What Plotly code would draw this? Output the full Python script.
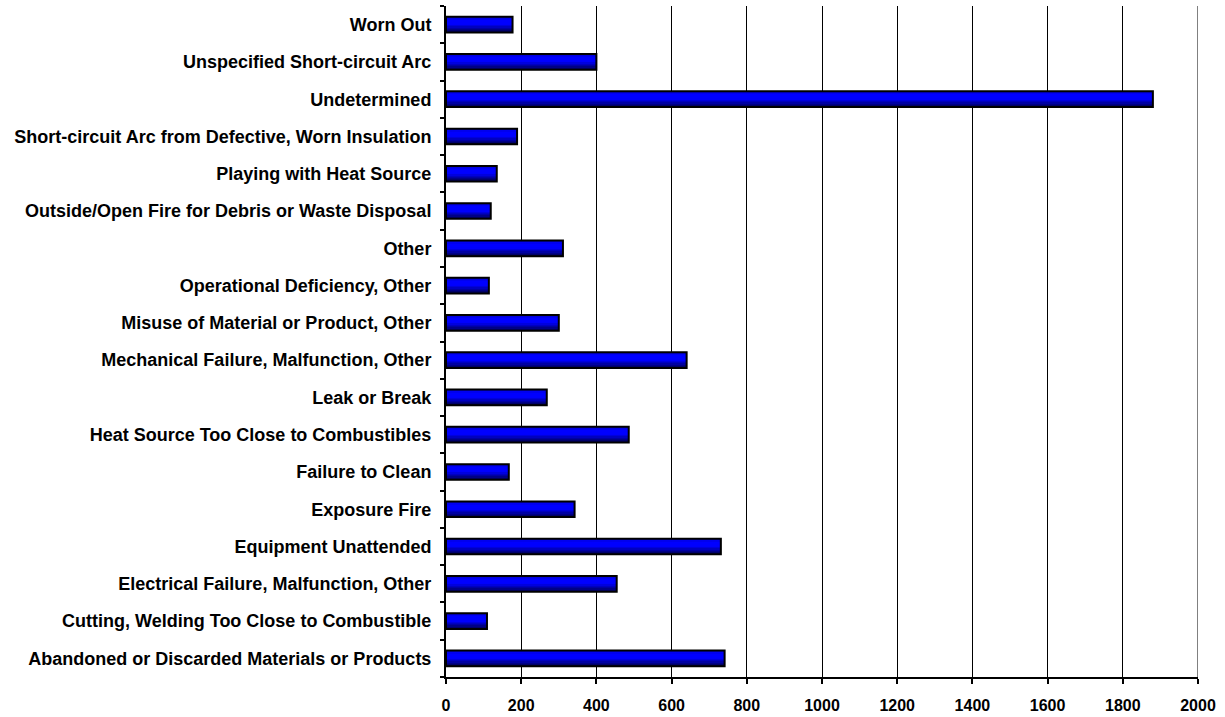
import plotly.graph_objects as go

categories = [
    "Abandoned or Discarded Materials or Products",
    "Cutting, Welding Too Close to Combustible",
    "Electrical Failure, Malfunction, Other",
    "Equipment Unattended",
    "Exposure Fire",
    "Failure to Clean",
    "Heat Source Too Close to Combustibles",
    "Leak or Break",
    "Mechanical Failure, Malfunction, Other",
    "Misuse of Material or Product, Other",
    "Operational Deficiency, Other",
    "Other",
    "Outside/Open Fire for Debris or Waste Disposal",
    "Playing with Heat Source",
    "Short-circuit Arc from Defective, Worn Insulation",
    "Undetermined",
    "Unspecified Short-circuit Arc",
    "Worn Out",
]
values = [741, 109, 454, 731, 342, 167, 486, 268, 640, 300, 114, 311, 119, 135, 189, 1880, 400, 177]
x_ticks = [0, 200, 400, 600, 800, 1000, 1200, 1400, 1600, 1800, 2000]

BAR_W = 0.42
N = 12
# gradient from bottom (dark) to top (bright then slightly darker)
def grad(t):
    # t: 0 bottom .. 1 top
    if t < 0.55:
        b = 60 + (255 - 60) * (t / 0.55)
    elif t < 0.8:
        b = 255
    else:
        b = 255 - (255 - 215) * ((t - 0.8) / 0.2)
    return f"rgb(0,0,{int(b)})"

fig = go.Figure()
for k in range(N):
    t = (k + 0.5) / N
    fig.add_trace(go.Bar(
        x=values, y=categories, orientation="h",
        width=BAR_W / N * 1.02, offset=-BAR_W / 2 + k * BAR_W / N,
        marker=dict(color=grad(t), line=dict(width=0)),
        hoverinfo="skip", showlegend=False,
    ))
fig.add_trace(go.Bar(
    x=values, y=categories, orientation="h",
    width=BAR_W, offset=-BAR_W / 2,
    marker=dict(color="rgba(0,0,0,0)", line=dict(color="black", width=2)),
    showlegend=False,
))

xfont = dict(family="Liberation Sans, Arial, sans-serif", size=16, color="black", weight="bold")
yfont = dict(family="Liberation Sans, Arial, sans-serif", size=18, color="black", weight="bold")

fig.update_layout(
    width=1225, height=717,
    margin=dict(l=446, r=27, t=6, b=40, autoexpand=False),
    barmode="overlay",
    plot_bgcolor="white", paper_bgcolor="white",
    font=xfont,
    xaxis=dict(
        range=[0, 2000], tickvals=x_ticks, ticktext=[str(v) for v in x_ticks],
        showgrid=True, gridcolor="black", gridwidth=1,
        showline=True, linecolor="black", linewidth=2,
        ticks="outside", ticklen=5, tickwidth=2, tickcolor="black",
        zeroline=False, tickfont=xfont, ticklabelstandoff=8, automargin=False,
    ),
    yaxis=dict(
        categoryorder="array", categoryarray=categories,
        range=[-0.5, len(categories) - 0.5],
        showline=True, linecolor="black", linewidth=2,
        ticks="outside", ticklen=4, tickwidth=2, tickcolor="black",
        tickson="boundaries", showgrid=False, zeroline=False,
        tickfont=yfont, ticklabelstandoff=9, automargin=False,
    ),
    shapes=[dict(type="line", xref="x", yref="paper", x0=2000, x1=2000, y0=0, y1=1,
                 line=dict(color="#808080", width=2))],
)

fig.write_html("out.html", config={"displayModeBar": False},
               post_script="document.body.style.margin='0';")
